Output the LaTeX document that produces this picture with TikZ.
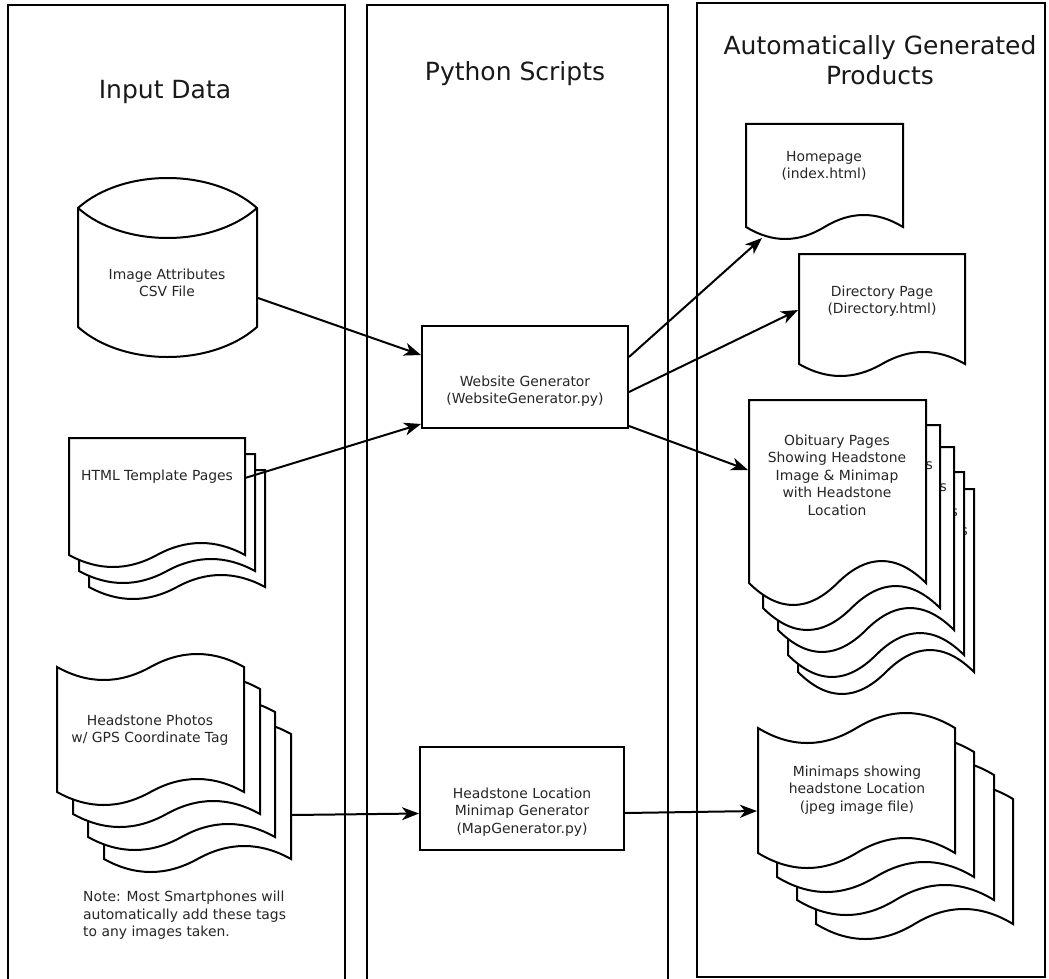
\documentclass[tikz,border=0pt]{standalone}
\usepackage{fontspec}
\setmainfont{DejaVu Sans}
\usetikzlibrary{arrows.meta}
\tikzset{
  colbox/.style={draw=black, line width=2pt},
  page/.style={draw=black, fill=white, line width=2pt},
  txt/.style={align=center, inner sep=0pt, font=\fontsize{13.9}{17.5}\selectfont, text=black!85},
  ttl/.style={align=center, inner sep=0pt, font=\fontsize{25}{30}\selectfont, text=black!90},
  procbox/.style={draw=black, fill=white, line width=2pt, inner sep=0pt},
  conn/.style={line width=2pt, -{Stealth[length=17pt,width=13pt,inset=5pt]}},
}
% document shape: x1, ytop, x2, yend, amplitude
\newcommand{\docpage}[5]{%
  \pgfmathsetmacro\dw{(#3-#1)/6}%
  \pgfmathsetmacro\dxm{(#1+#3)/2}%
  \pgfmathsetmacro\dh{4*#5/3}%
  \draw[page] (#1,#2) -- (#3,#2) -- (#3,#4)
    .. controls ({#3-\dw},{#4-\dh}) and ({\dxm+\dw},{#4-\dh}) .. (\dxm,#4)
    .. controls ({\dxm-\dw},{#4+\dh}) and ({#1+\dw},{#4+\dh}) .. (#1,#4) -- cycle;%
}
% tape shape: x1, ytop, x2, yend, amplitude
\newcommand{\tapepage}[5]{%
  \pgfmathsetmacro\dw{(#3-#1)/6}%
  \pgfmathsetmacro\dxm{(#1+#3)/2}%
  \pgfmathsetmacro\dh{4*#5/3}%
  \draw[page] (#1,#2)
    .. controls ({#1+\dw},{#2+\dh}) and ({\dxm-\dw},{#2+\dh}) .. (\dxm,#2)
    .. controls ({\dxm+\dw},{#2-\dh}) and ({#3-\dw},{#2-\dh}) .. (#3,#2)
    -- (#3,#4)
    .. controls ({#3-\dw},{#4-\dh}) and ({\dxm+\dw},{#4-\dh}) .. (\dxm,#4)
    .. controls ({\dxm-\dw},{#4+\dh}) and ({#1+\dw},{#4+\dh}) .. (#1,#4) -- cycle;%
}
\begin{document}
\begin{tikzpicture}[x=1pt, y=-1pt]
\useasboundingbox (0,0) rectangle (1049,979);
\clip (0,0) rectangle (1049,979);
\fill[white] (0,0) rectangle (1049,979);

% columns
\draw[colbox] (8,5) rectangle (345,1000);
\draw[colbox] (367,5) rectangle (668,1000);
\draw[colbox] (697,3) rectangle (1045,977);

% titles
\node[ttl] (t1) at (165,92) {Input Data};
\node[ttl] (t2) at (515,74) {Python Scripts};
\node[ttl] (t3) at (880,60) {Automatically Generated\\Products};

% cylinder
\draw[page] (78,208) .. controls (123,168) and (212,168) .. (257,208)
  -- (257,327) .. controls (212,367) and (123,367) .. (78,327) -- cycle;
\draw[line width=2pt] (78,208) .. controls (123,248) and (212,248) .. (257,208);
\node[txt] (csv) at (167,283) {Image Attributes\\CSV File};

% HTML template pages
\docpage{89}{470}{265}{587}{12}
\docpage{79}{454}{255}{571}{12}
\docpage{69}{438}{245}{555}{12}
\node[txt] (html) at (157,477) {HTML Template Pages};

% headstone photos
\tapepage{104}{734}{291}{859}{13}
\tapepage{88}{712}{275}{837}{13}
\tapepage{73}{689}{260}{814}{13}
\tapepage{57}{667}{244}{792}{13}
\node[txt] (photos) at (150,730) {Headstone Photos\\w/ GPS Coordinate Tag};
\node[txt, align=left, anchor=north west] (note) at (83,891)
  {Note: Most Smartphones will\\automatically add these tags\\to any images taken.};

% python scripts
\node[procbox, minimum width=206pt, minimum height=102pt] (web) at (525,377) {};
\node[txt] (webtxt) at (525,391) {Website Generator\\(WebsiteGenerator.py)};
\node[procbox, minimum width=204pt, minimum height=103pt] (map) at (522,798.5) {};
\node[txt] (maptxt) at (522,812) {Headstone Location\\Minimap Generator\\(MapGenerator.py)};

% products
\docpage{746}{124}{903}{227}{12}
\node[txt] (home) at (824,166) {Homepage\\(index.html)};
\docpage{799}{254}{965}{364}{12}
\node[txt] (dir) at (882,301) {Directory Page\\(Directory.html)};

\docpage{798}{489}{974}{672}{22}
\node[txt, anchor=east] (ob5) at (968,532) {s};
\docpage{788}{472}{964}{655}{22}
\node[txt, anchor=east] (ob4) at (958,513) {s};
\docpage{778}{447}{954}{630}{22}
\node[txt, anchor=east] (ob3) at (947,488) {s};
\docpage{763}{425}{940}{608}{22}
\node[txt, anchor=east] (ob2) at (933,466) {s};
\docpage{749}{400}{926}{583}{22}
\node[txt] (obit) at (837,475) {Obituary Pages\\Showing Headstone\\Image \& Minimap\\with Headstone\\Location};

\tapepage{816}{799}{1013}{924}{15}
\tapepage{797}{775}{994}{900}{15}
\tapepage{777}{752}{974}{877}{15}
\tapepage{758}{728}{955}{853}{15}
\node[txt] (mini) at (857,790) {Minimaps showing\\headstone Location\\(jpeg image file)};

% connector end points
\coordinate (csvout) at (258,298);
\coordinate (webin1) at (421,355);
\coordinate (htmlout) at (245,478);
\coordinate (webin2) at (421,424);
\coordinate (webout1) at (629,357);
\coordinate (homein) at (762,238);
\coordinate (webout2) at (629,392);
\coordinate (dirin) at (798,310);
\coordinate (webout3) at (629,426);
\coordinate (obin) at (748,470);
\coordinate (photout) at (292,815);
\coordinate (mapin) at (419,813.5);
\coordinate (mapout) at (625,813);
\coordinate (miniin) at (757,811);

\draw[conn] (csvout) -- (webin1);
\draw[conn] (htmlout) -- (webin2);
\draw[conn] (webout1) -- (homein);
\draw[conn] (webout2) -- (dirin);
\draw[conn] (webout3) -- (obin);
\draw[conn] (photout) -- (mapin);
\draw[conn] (mapout) -- (miniin);
\end{tikzpicture}
\end{document}
